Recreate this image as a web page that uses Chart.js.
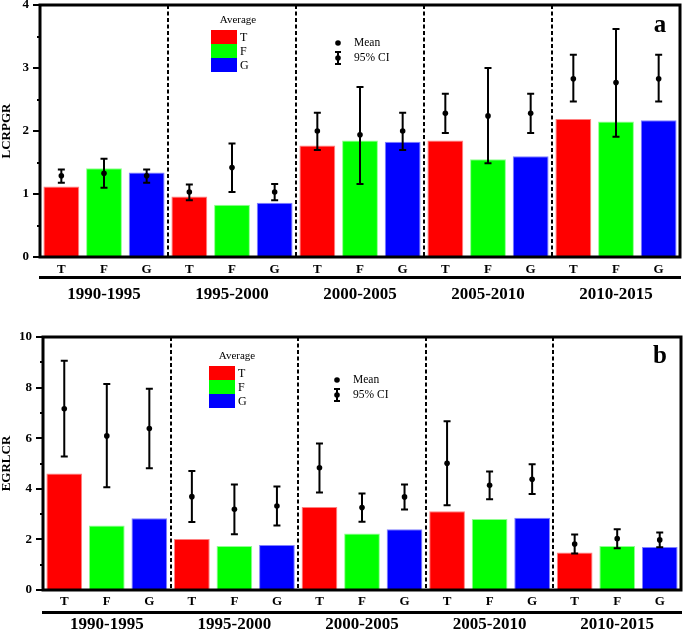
<!DOCTYPE html>
<html>
<head>
<meta charset="utf-8">
<script src="https://cdn.jsdelivr.net/npm/chart.js@4.4.0/dist/chart.umd.min.js"></script>
<style>
  body { margin: 0; background: #fff; }
  #wrap { position: relative; width: 685px; height: 632px; }
  canvas { position: absolute; left: 0; }
</style>
</head>
<body>
<div id="wrap">
  <canvas id="chart-a" width="685" height="316" style="top:0"></canvas>
  <canvas id="chart-b" width="685" height="316" style="top:316px"></canvas>
</div>
<script>
// categories
const periods = ['1990-1995', '1995-2000', '2000-2005', '2005-2010', '2010-2015'];
const types = ['T', 'F', 'G', 'T', 'F', 'G', 'T', 'F', 'G', 'T', 'F', 'G', 'T', 'F', 'G'];

// panel a : LCRPGR
const lcrpgrAvg  = [1.12, 1.41, 1.34, 0.96, 0.83, 0.86, 1.77, 1.85, 1.83, 1.85, 1.55, 1.60, 2.19, 2.15, 2.17];
const lcrpgrMean = [1.29, 1.33, 1.29, 1.03, 1.42, 1.03, 2.00, 1.94, 2.00, 2.28, 2.24, 2.28, 2.83, 2.77, 2.83];
const lcrpgrLo   = [1.18, 1.10, 1.18, 0.90, 1.03, 0.90, 1.70, 1.16, 1.70, 1.97, 1.49, 1.97, 2.47, 1.91, 2.47];
const lcrpgrHi   = [1.39, 1.56, 1.39, 1.15, 1.80, 1.16, 2.29, 2.70, 2.29, 2.59, 3.00, 2.59, 3.21, 3.62, 3.21];

// panel b : EGRLCR
const egrlcrAvg  = [4.60, 2.55, 2.84, 2.02, 1.74, 1.78, 3.28, 2.23, 2.40, 3.11, 2.81, 2.86, 1.48, 1.74, 1.70];
const egrlcrMean = [7.16, 6.09, 6.38, 3.69, 3.19, 3.32, 4.83, 3.26, 3.68, 5.01, 4.14, 4.38, 1.82, 2.03, 1.98];
const egrlcrLo   = [5.28, 4.06, 4.81, 2.69, 2.20, 2.55, 3.85, 2.70, 3.18, 3.35, 3.59, 3.79, 1.44, 1.65, 1.69];
const egrlcrHi   = [9.06, 8.14, 7.95, 4.70, 4.17, 4.09, 5.79, 3.81, 4.17, 6.67, 4.68, 4.97, 2.19, 2.40, 2.27];

const legendNames = ['T', 'F', 'G'];
const typeColors = { T: '#ff0000', F: '#00ff00', G: '#0000ff' };
const typeEdges  = { T: '#ff8080', F: '#90ff90', G: '#8080ff' };

const SERIF = '"Liberation Serif", "Times New Roman", serif';

// error bars, frame, inner legends and panel letter
const panelDecor = {
  id: 'panelDecor',
  afterDatasetsDraw(chart, args, opts) {
    const ctx = chart.ctx;
    const xs = chart.scales.x, ys = chart.scales.y;
    ctx.save();
    ctx.strokeStyle = '#000';
    ctx.lineWidth = 2;
    opts.lo.forEach((lo, i) => {
      const px = xs.getPixelForValue(i);
      const top = ys.getPixelForValue(opts.hi[i]);
      const bot = ys.getPixelForValue(lo);
      ctx.beginPath();
      ctx.moveTo(px, top); ctx.lineTo(px, bot);
      ctx.moveTo(px - 3.5, top); ctx.lineTo(px + 3.5, top);
      ctx.moveTo(px - 3.5, bot); ctx.lineTo(px + 3.5, bot);
      ctx.stroke();
    });
    ctx.restore();
  },
  afterDraw(chart, args, opts) {
    const ctx = chart.ctx;
    const a = chart.chartArea;
    ctx.save();
    // frame
    ctx.strokeStyle = '#000';
    ctx.lineWidth = 3;
    ctx.strokeRect(a.left, a.top, a.right - a.left, a.bottom - a.top);

    // "Average" legend
    const L = opts.legend;
    ctx.fillStyle = '#000';
    ctx.font = '11px ' + SERIF;
    ctx.textAlign = 'center';
    ctx.textBaseline = 'middle';
    ctx.fillText('Average', L.titleX, L.titleY);
    ctx.textAlign = 'left';
    ctx.font = '12px ' + SERIF;
    legendNames.forEach((n, i) => {
      ctx.fillStyle = typeColors[n];
      ctx.fillRect(L.boxX, L.boxY + i * 14, 26, 14);
      ctx.fillStyle = '#000';
      ctx.fillText(n, L.boxX + 29, L.boxY + i * 14 + 7.5);
    });

    // Mean / 95% CI legend
    const M = opts.meanLegend;
    ctx.beginPath();
    ctx.arc(M.x, M.y, 2.8, 0, Math.PI * 2);
    ctx.fill();
    ctx.beginPath();
    ctx.arc(M.x, M.y + 15, 2.8, 0, Math.PI * 2);
    ctx.fill();
    ctx.lineWidth = 2;
    ctx.beginPath();
    ctx.moveTo(M.x, M.y + 9); ctx.lineTo(M.x, M.y + 21);
    ctx.moveTo(M.x - 3, M.y + 9); ctx.lineTo(M.x + 3, M.y + 9);
    ctx.moveTo(M.x - 3, M.y + 21); ctx.lineTo(M.x + 3, M.y + 21);
    ctx.stroke();
    ctx.font = '11.5px ' + SERIF;
    ctx.fillText('Mean', M.x + 16, M.y);
    ctx.fillText('95% CI', M.x + 16, M.y + 15);

    // panel letter
    ctx.font = 'bold 25px ' + SERIF;
    ctx.textAlign = 'center';
    ctx.textBaseline = 'alphabetic';
    ctx.fillText(opts.letter, opts.letterX, opts.letterY);
    ctx.restore();
  }
};

function isMajor(v, step) {
  return Math.abs(v / step - Math.round(v / step)) < 1e-6;
}

function makePanel(id, cfg) {
  return new Chart(document.getElementById(id), {
    data: {
      labels: types,
      datasets: [
        {
          type: 'line',
          label: 'Mean',
          data: cfg.mean,
          showLine: false,
          pointRadius: 2.8,
          pointBackgroundColor: '#000',
          pointBorderColor: '#000',
          pointBorderWidth: 0,
          order: 0
        },
        {
          type: 'bar',
          label: 'Average',
          data: cfg.avg,
          backgroundColor: types.map(t => typeColors[t]),
          borderColor: types.map(t => typeEdges[t]),
          borderWidth: 1,
          barPercentage: 0.84,
          categoryPercentage: 1,
          order: 1
        }
      ]
    },
    options: {
      responsive: false,
      animation: false,
      layout: { padding: cfg.padding },
      plugins: {
        legend: { display: false },
        tooltip: { enabled: false },
        panelDecor: {
          lo: cfg.lo,
          hi: cfg.hi,
          legend: cfg.legend,
          meanLegend: cfg.meanLegend,
          letter: cfg.letter,
          letterX: 660,
          letterY: cfg.letterY
        }
      },
      scales: {
        x: {
          type: 'category',
          position: 'bottom',
          weight: 0,
          offset: true,
          grid: { display: false, drawTicks: false },
          border: { display: false },
          ticks: {
            padding: cfg.xPad,
            color: '#000',
            font: { family: SERIF, size: 13, weight: 'bold', lineHeight: 1 }
          },
          afterFit(s) { s.height = cfg.xHeight; }
        },
        x2: {
          type: 'category',
          position: 'bottom',
          weight: 1,
          labels: periods,
          offset: true,
          grid: {
            offset: true,
            drawTicks: false,
            color: '#000',
            lineWidth: 2
          },
          border: { display: true, color: '#000', width: 3, dash: [4, 2.5] },
          ticks: {
            padding: cfg.x2Pad,
            color: '#000',
            font: { family: SERIF, size: 17, weight: 'bold', lineHeight: 1 }
          },
          afterFit(s) { s.height = cfg.x2Height; }
        },
        y: {
          min: 0,
          max: cfg.yMax,
          grid: {
            drawOnChartArea: false,
            drawTicks: true,
            tickLength: 7,
            color: '#000',
            lineWidth: 2,
            // minor ticks: only the inner part of the tick is drawn
            tickBorderDash: c => (c.tick && isMajor(c.tick.value, cfg.yMajor) ? [] : [0, 4, 4, 30])
          },
          border: { display: false },
          ticks: {
            stepSize: cfg.yMinor,
            padding: 4,
            color: '#000',
            font: { family: SERIF, size: 13, weight: 'bold' },
            callback: v => (isMajor(v, cfg.yMajor) ? v : '')
          },
          title: {
            display: true,
            text: cfg.yTitle,
            color: '#000',
            padding: 0,
            font: { family: SERIF, size: 13, weight: 'bold', lineHeight: 1 }
          },
          afterFit(s) {
            s.width = cfg.yWidth;
            s.paddingTop = 0;
            s.paddingBottom = 0;
          }
        }
      }
    },
    plugins: [panelDecor]
  });
}

makePanel('chart-a', {
  avg: lcrpgrAvg, mean: lcrpgrMean, lo: lcrpgrLo, hi: lcrpgrHi,
  yMax: 4, yMajor: 1, yMinor: 0.5, yTitle: 'LCRPGR',
  padding: { top: 5, right: 5, bottom: 9, left: 0 },
  yWidth: 40, xHeight: 20, x2Height: 30, xPad: 6, x2Pad: 9,
  legend: { titleX: 238, titleY: 20, boxX: 211, boxY: 30 },
  meanLegend: { x: 338, y: 43 },
  letter: 'a', letterY: 32
});

makePanel('chart-b', {
  avg: egrlcrAvg, mean: egrlcrMean, lo: egrlcrLo, hi: egrlcrHi,
  yMax: 10, yMajor: 2, yMinor: 1, yTitle: 'EGRLCR',
  padding: { top: 21, right: 4, bottom: 0, left: 0 },
  yWidth: 43, xHeight: 22, x2Height: 20, xPad: 5, x2Pad: 4,
  legend: { titleX: 237, titleY: 40, boxX: 209, boxY: 50 },
  meanLegend: { x: 337, y: 64 },
  letter: 'b', letterY: 47
});
</script>
</body>
</html>
